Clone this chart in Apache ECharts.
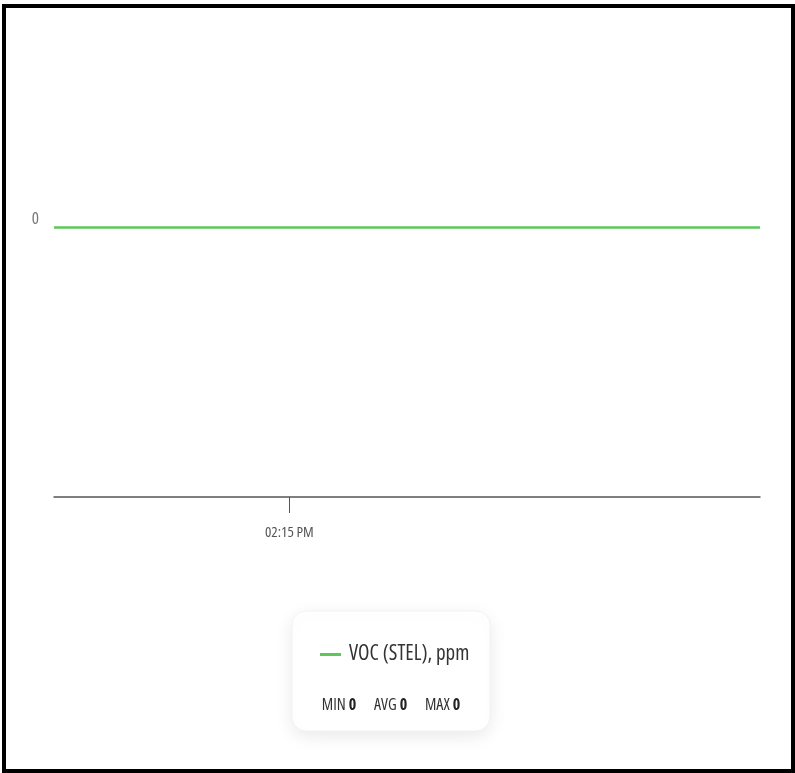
<!DOCTYPE html>
<html><head><meta charset="utf-8">
<script src="https://cdn.jsdelivr.net/npm/echarts@6/dist/echarts.min.js"></script>
<style>html,body{margin:0;padding:0;background:#fff}#c{width:795px;height:773px}</style>
</head><body><div id="c"></div>
<script>
// minutes since midnight
const times = [850,851,852,853,854,855,856,857,858,859,860,861,862,863,864,865];
const values = [0,0,0,0,0,0,0,0,0,0,0,0,0,0,0,0];
const seriesName = 'VOC (STEL), ppm';
const xTicks = [855];
const yTicks = [0];
const FONT = '"Open Sans","Roboto",sans-serif';
const NARROW = 'normal extra-condensed';
const NARROW_B = 'bold extra-condensed';

function fmtTime(m){
  let h = Math.floor(m/60), mm = m%60;
  const ap = h>=12?'PM':'AM';
  h = h%12; if(h===0) h=12;
  return String(h).padStart(2,'0')+':'+String(mm).padStart(2,'0')+' '+ap;
}
const mn = Math.min(...values), mx = Math.max(...values);
const avg = Math.round(values.reduce((a,b)=>a+b,0)/values.length);

const chart = echarts.init(document.getElementById('c'));
chart.setOption({
  animation:false,
  grid:{left:54,right:35,top:48,bottom:276},
  xAxis:{type:'value',min:times[0],max:times[times.length-1],
    axisLine:{show:true,onZero:false,lineStyle:{color:'#555',width:1.5}},
    axisTick:{show:true,customValues:xTicks,length:16,lineStyle:{color:'#555',width:1}},
    axisLabel:{customValues:xTicks,formatter:v=>fmtTime(v),margin:28,color:'#555',fontFamily:FONT,fontWeight:NARROW,fontSize:15},
    splitLine:{show:false}},
  yAxis:{type:'value',min:-3,max:2,
    axisLine:{show:false},axisTick:{show:false},splitLine:{show:false},
    axisLabel:{customValues:yTicks,margin:15,color:'#777',fontFamily:FONT,fontWeight:NARROW,fontSize:17,verticalAlign:'bottom'}},
  legend:{show:true,data:[seriesName],left:315,top:639,itemWidth:21,itemHeight:3,
    icon:'rect',textStyle:{fontFamily:FONT,fontWeight:NARROW,fontSize:21,color:'#333',padding:[0,0,0,3]}},
  series:[{name:seriesName,type:'line',data:times.map((t,i)=>[t,values[i]]),
    showSymbol:false,lineStyle:{color:'#5cc85c',width:2.5},itemStyle:{color:'#5cc85c'}}],
  graphic:[
    {type:'rect',z:-1,shape:{x:4,y:6,width:789,height:765},style:{fill:'none',stroke:'#000',lineWidth:4}},
    {type:'rect',z:-1,shape:{x:292,y:611,width:198,height:120,r:14},
      style:{fill:'#fff',stroke:'#f2f2f2',lineWidth:1,shadowBlur:18,shadowColor:'rgba(0,0,0,0.09)',shadowOffsetY:5}},
    {type:'text',x:391,y:705,style:{
      text:'MIN {b|'+mn+'}      AVG {b|'+avg+'}      MAX {b|'+mx+'}',
      align:'center',verticalAlign:'middle',
      font:NARROW+' 16px '+FONT,fill:'#333',
      rich:{b:{font:NARROW_B+' 16px '+FONT,fontFamily:FONT,fontSize:16,fontWeight:NARROW_B,fill:'#222'}}}}
  ]
});
</script></body></html>
